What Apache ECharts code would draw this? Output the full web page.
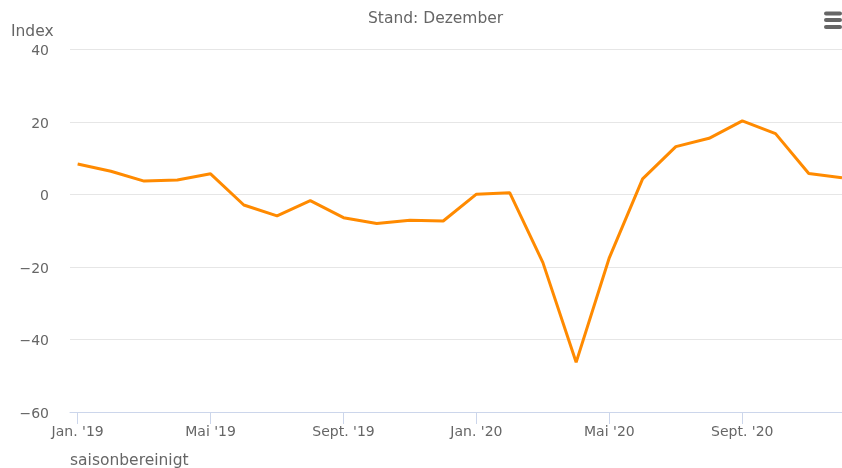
<!DOCTYPE html>
<html><head><meta charset="utf-8">
<script src="https://cdn.jsdelivr.net/npm/echarts@6/dist/echarts.min.js"></script>
<style>html,body{margin:0;padding:0;background:#fff}#c{width:842px;height:468px}</style>
</head><body><div id="c"></div>
<script>
const months = ["Jan. '19","Feb. '19","März '19","Apr. '19","Mai '19","Juni '19","Juli '19","Aug. '19","Sept. '19","Okt. '19","Nov. '19","Dez. '19",
"Jan. '20","Feb. '20","März '20","Apr. '20","Mai '20","Juni '20","Juli '20","Aug. '20","Sept. '20","Okt. '20","Nov. '20","Dez. '20"];
const values = [8.4,6.4,3.7,4.0,5.7,-2.9,-5.9,-1.7,-6.4,-8.0,-7.1,-7.3,0.1,0.5,-18.8,-46.3,-17.4,4.3,13.2,15.5,20.3,16.8,5.8,4.6];
const xTickIdx = [0,4,8,12,16,20];
const yTicks = [-60,-40,-20,0,20,40];
const fam = '"DejaVu Sans", sans-serif';
const chart = echarts.init(document.getElementById('c'));
chart.setOption({
  animation:false,
  title:{text:'Stand: Dezember',left:363,top:6,textStyle:{fontFamily:fam,fontSize:15.5,fontWeight:'normal',color:'#666'}},
  grid:{left:70,right:0,top:49.5,bottom:56,containLabel:false},
  xAxis:{type:'value',min:-0.23,max:23,
    axisLine:{show:true,onZero:false,lineStyle:{color:'#ccd6eb'}},
    axisTick:{show:true,length:12,lineStyle:{color:'#ccd6eb'},customValues:xTickIdx},
    axisLabel:{customValues:xTickIdx,formatter:v=>months[Math.round(v)],color:'#666',fontFamily:fam,fontSize:14,margin:13},
    splitLine:{show:false}},
  yAxis:{type:'value',min:yTicks[0],max:yTicks[yTicks.length-1],interval:20,
    name:'Index',nameLocation:'end',nameGap:0,
    nameTextStyle:{fontFamily:fam,fontSize:15.5,color:'#666',align:'right',verticalAlign:'bottom',padding:[0,24,10,0]},
    axisLine:{show:false},axisTick:{show:false},
    axisLabel:{color:'#666',fontFamily:fam,fontSize:14,margin:21,
      formatter:v=>'{a|'+String(v).replace('-','\u2212')+'}',
      rich:{a:{color:'#666',fontFamily:fam,fontSize:14,padding:[4,0,0,0]}}},
    splitLine:{lineStyle:{color:'#e6e6e6'}}},
  graphic:[
    {type:'rect',shape:{x:824,y:11.5,width:18,height:4,r:2},style:{fill:'#666'}},
    {type:'rect',shape:{x:824,y:18,width:18,height:4,r:2},style:{fill:'#666'}},
    {type:'rect',shape:{x:824,y:25,width:18,height:4,r:2},style:{fill:'#666'}},
    {type:'text',left:70,top:453,style:{text:'saisonbereinigt',fontFamily:fam,fontSize:15.5,fill:'#666'}}
  ],
  series:[{type:'line',data:values.map((v,i)=>[i,v]),showSymbol:false,clip:false,
    lineStyle:{color:'#ff8a00',width:3},itemStyle:{color:'#ff8a00'}}]
});
</script></body></html>
